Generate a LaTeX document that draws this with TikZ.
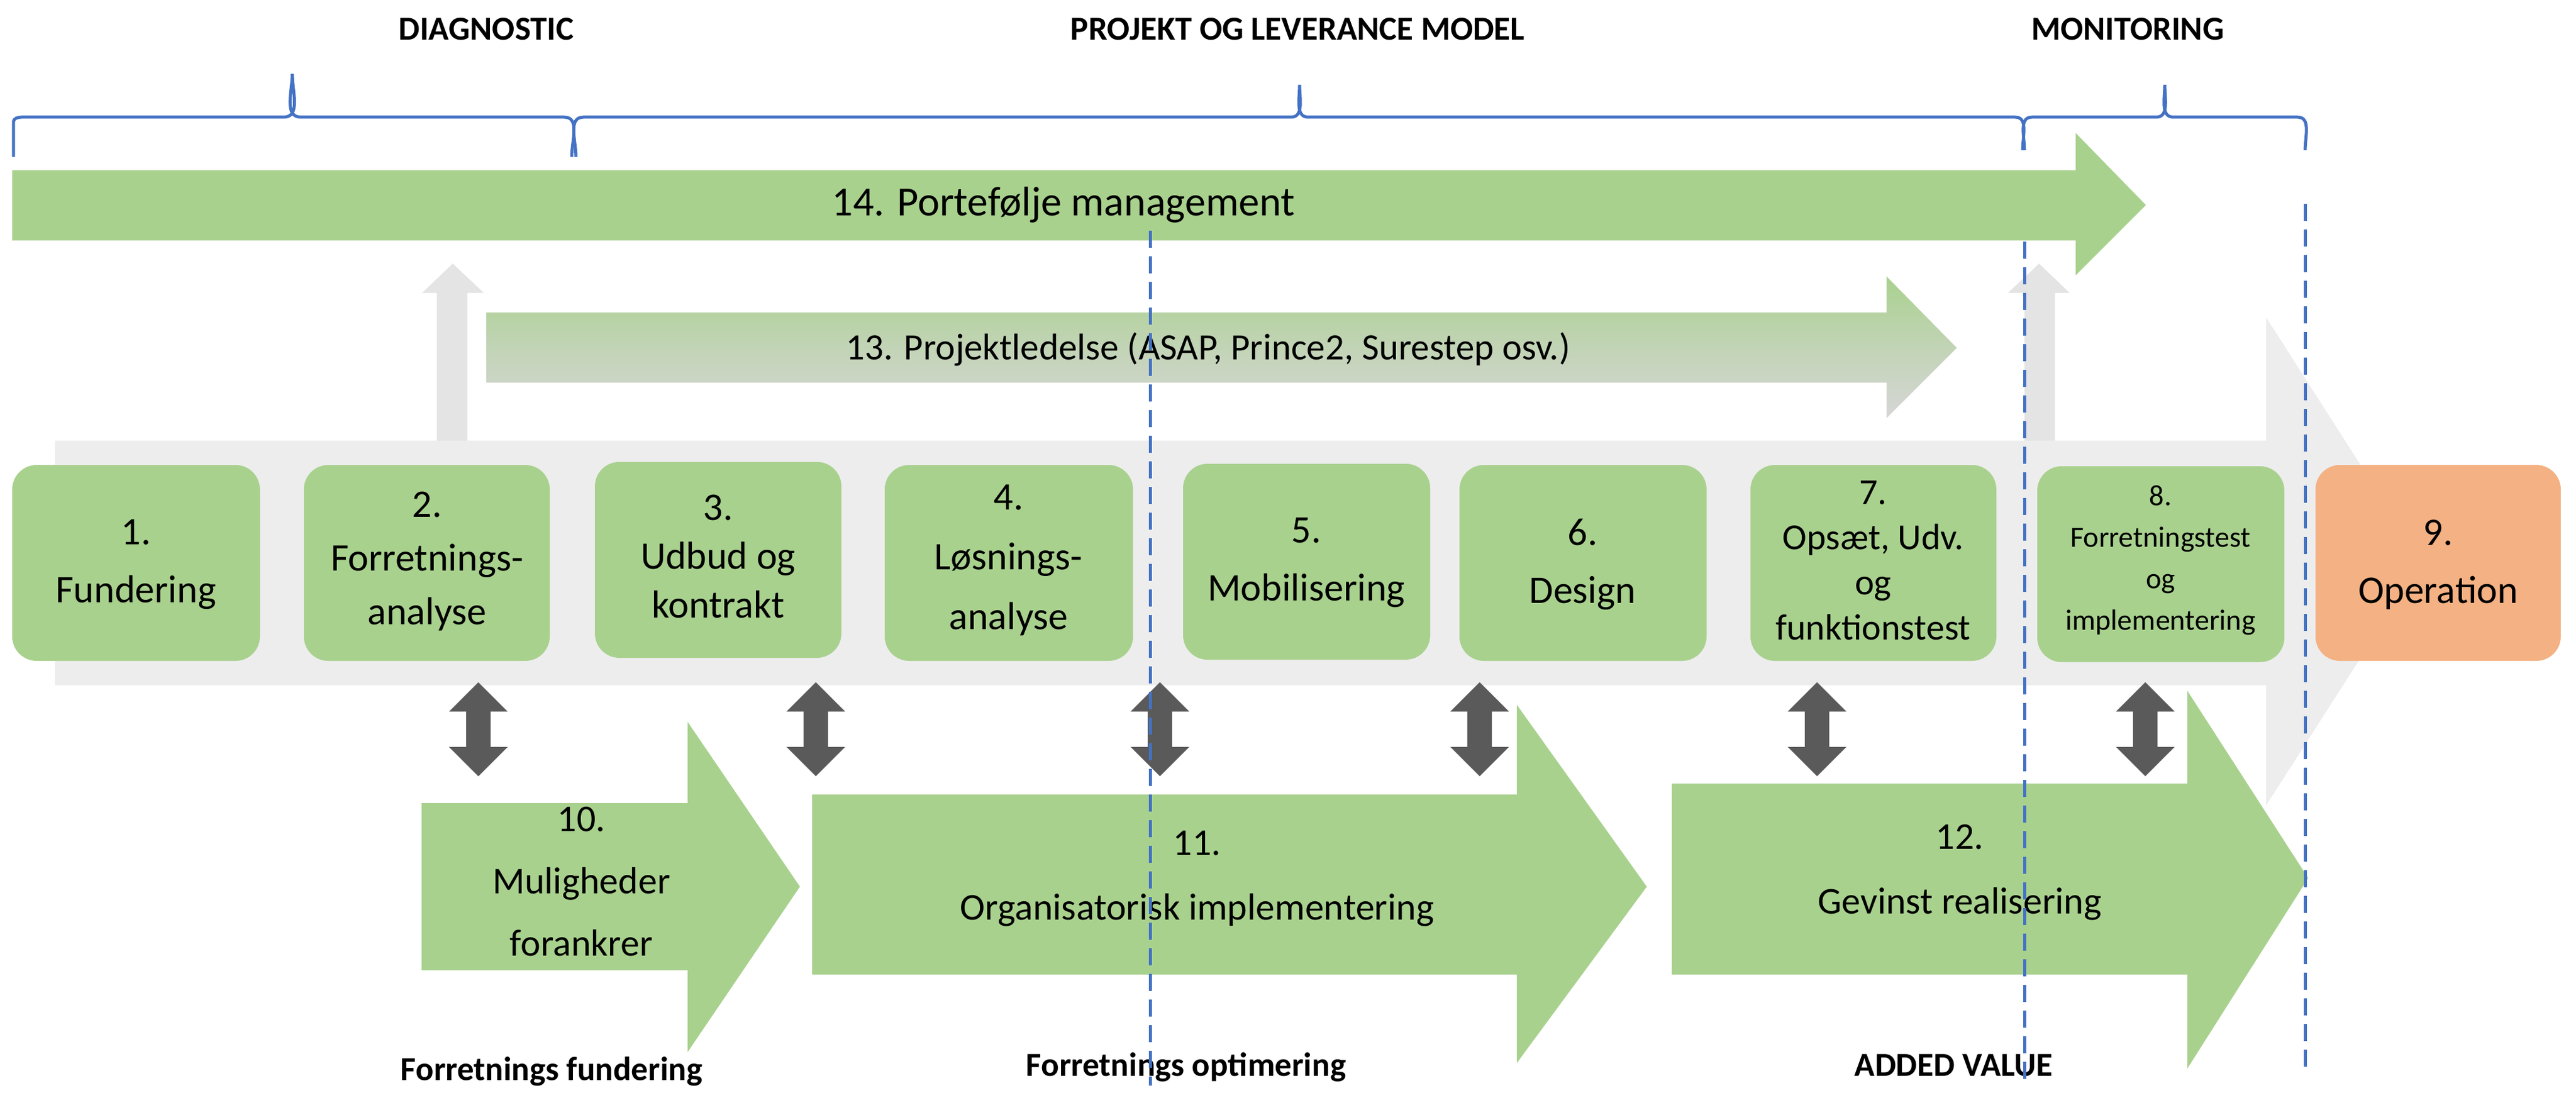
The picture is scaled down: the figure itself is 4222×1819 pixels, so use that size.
\documentclass[tikz,border=0pt]{standalone}
\usepackage{fontspec}
\setmainfont{Carlito}
\begin{document}
\begin{tikzpicture}[x=1pt,y=-1pt,
  box/.style={fill=ggreen,draw=none,rounded corners=40pt},
  btxt/.style={font=\fontsize{64}{95}\selectfont,align=center},
  ttl/.style={font=\bfseries\fontsize{55}{60}\selectfont},
  brace/.style={draw=bblue,line width=5pt},
  vdash/.style={draw=bblue,line width=5pt,dash pattern=on 28pt off 14pt},
  dbl/.style={fill=dgrey,draw=none}]
\definecolor{ggreen}{HTML}{A9D18E}
\definecolor{orng}{HTML}{F4B183}
\definecolor{lgrey}{HTML}{EDEDED}
\definecolor{ugrey}{HTML}{E4E4E4}
\definecolor{bblue}{HTML}{4472C4}
\definecolor{dgrey}{HTML}{5A5A5A}
\definecolor{sgrey}{HTML}{D6D6D6}
\useasboundingbox (0,0) rectangle (4222,1819);
\fill[white] (0,0) rectangle (4222,1819);
% titles
\node[ttl] (t1) at (797,48) {DIAGNOSTIC};
\node[ttl] (t2) at (2127,48) {PROJEKT OG LEVERANCE MODEL};
\node[ttl] (t3) at (3487,48) {MONITORING};
% braces
\draw[brace] (22,257) -- (22,200) to[out=90,in=180] (35,192) -- (465,192) to[out=0,in=-90] (479,121) to[out=-90,in=180] (493,192) -- (925,192) to[out=0,in=90] (937,257);
\draw[brace] (944,257) to[out=90,in=180] (956,192) -- (2116,192) to[out=0,in=-90] (2130,139) to[out=-90,in=180] (2144,192) -- (3303,192) to[out=0,in=90] (3315,246);
\draw[brace] (3318,246) to[out=90,in=180] (3330,192) -- (3534,192) to[out=0,in=-90] (3548,139) to[out=-90,in=180] (3562,192) -- (3766,192) to[out=0,in=90] (3778,246);
% big grey arrow
\fill[lgrey] (90,722) -- (3714,722) -- (3714,520) -- (3970,920) -- (3714,1320) -- (3714,1123) -- (90,1123) -- cycle;
% up arrows
\fill[ugrey] (716,722) -- (716,480) -- (692,480) -- (742,432) -- (793,480) -- (766,480) -- (766,722) -- cycle;
\fill[ugrey] (3318,722) -- (3318,480) -- (3291,480) -- (3342,432) -- (3392,480) -- (3368,480) -- (3368,722) -- cycle;
% arrow 14
\fill[ggreen] (20,279) -- (3402,279) -- (3402,218) -- (3517,336) -- (3402,451) -- (3402,394) -- (20,394) -- cycle;
\node[font=\fontsize{68}{76}\selectfont] (a14) at (1743,336) {14. Portefølje management};
% arrow 13
\shade[top color=ggreen,bottom color=sgrey,middle color=ggreen!45!sgrey] (797,512) -- (3092,512) -- (3092,453) -- (3207,570) -- (3092,685) -- (3092,627) -- (797,627) -- cycle;
\node[font=\fontsize{61}{70}\selectfont] (a13) at (1980,572) {13. Projektledelse (ASAP, Prince2, Surestep osv.)};
% boxes
\fill[box] (20,762) rectangle (426,1083);
\node[btxt] (b1) at (223,925) {1.\\Fundering};
\fill[box] (498,762) rectangle (901,1083);
\node[btxt,font=\fontsize{64}{88}\selectfont] (b2) at (700,920) {2.\\Forretnings-\\analyse};
\fill[box] (975,757) rectangle (1379,1078);
\node[btxt,font=\fontsize{64}{80}\selectfont] (b3) at (1177,912) {3.\\Udbud og\\kontrakt};
\fill[box] (1450,762) rectangle (1857,1083);
\node[btxt,font=\fontsize{64}{98}\selectfont] (b4) at (1653,918) {4.\\Løsnings-\\analyse};
\fill[box] (1939,760) rectangle (2344,1081);
\node[btxt] (b5) at (2141,922) {5.\\Mobilisering};
\fill[box] (2392,762) rectangle (2797,1083);
\node[btxt] (b6) at (2594,925) {6.\\Design};
\fill[box] (2869,762) rectangle (3272,1083);
\node[btxt,font=\fontsize{60}{74}\selectfont] (b7) at (3070,918) {7.\\Opsæt, Udv.\\og\\funktionstest};
\fill[box] (3339,764) rectangle (3744,1085);
\node[btxt,font=\fontsize{48}{68}\selectfont] (b8) at (3541,918) {8.\\Forretningstest\\og\\implementering};
\fill[box,fill=orng] (3795,762) rectangle (4197,1083);
\node[btxt] (b9) at (3996,925) {9.\\Operation};
% double arrows
\foreach \x [count=\i] in {784,1337,1901,2425,2978,3516}{
  \fill[dbl] (\x,1118) -- (\x+48,1166) -- (\x+20,1166) -- (\x+20,1224) -- (\x+48,1224) -- (\x,1272) -- (\x-48,1224) -- (\x-20,1224) -- (\x-20,1166) -- (\x-48,1166) -- cycle;
  \coordinate (d\i) at (\x,1195);
}
% lower arrows
\fill[ggreen] (691,1316) -- (1127,1316) -- (1127,1183) -- (1311,1453) -- (1127,1724) -- (1127,1590) -- (691,1590) -- cycle;
\node[btxt,font=\fontsize{62}{102}\selectfont] (a10) at (953,1445) {10.\\Muligheder\\forankrer};
\fill[ggreen] (1331,1302) -- (2486,1302) -- (2486,1155) -- (2699,1453) -- (2486,1742) -- (2486,1597) -- (1331,1597) -- cycle;
\node[btxt,font=\fontsize{62}{106}\selectfont] (a11) at (1962,1440) {11.\\Organisatorisk implementering};
\fill[ggreen] (2740,1284) -- (3585,1284) -- (3585,1132) -- (3783,1439) -- (3585,1751) -- (3585,1597) -- (2740,1597) -- cycle;
\node[btxt,font=\fontsize{62}{106}\selectfont] (a12) at (3212,1430) {12.\\Gevinst realisering};
% bottom labels
\node[ttl] (l1) at (904,1756) {Forretnings fundering};
\node[ttl] (l2) at (1944,1749) {Forretnings optimering};
\node[ttl] (l3) at (3202,1746) {ADDED VALUE};
% dashed lines
\coordinate (v1a) at (1885,378); \coordinate (v1b) at (1885,1779);
\coordinate (v2a) at (3318,396); \coordinate (v2b) at (3318,1779);
\coordinate (v3a) at (3778,334); \coordinate (v3b) at (3778,1756);
\draw[vdash] (v1a) -- (v1b);
\draw[vdash] (v2a) -- (v2b);
\draw[vdash] (v3a) -- (v3b);
\end{tikzpicture}
\end{document}
